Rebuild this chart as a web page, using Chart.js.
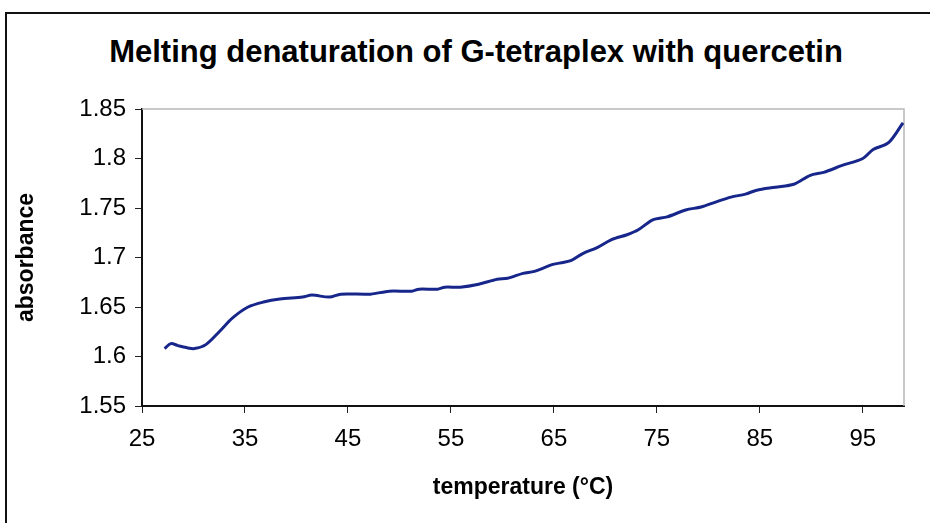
<!DOCTYPE html>
<html lang="en">
<head>
    <meta charset="UTF-8">
    <title>Melting denaturation of G-tetraplex with quercetin</title>
    <script src="https://cdn.jsdelivr.net/npm/chart.js"></script>
    <style>
        html, body { margin: 0; padding: 0; background: #fff; overflow: hidden; }
        .page { position: relative; width: 930px; height: 523px; }
        .frame {
            position: absolute; left: 5px; top: 12px; width: 960px; height: 560px;
            border-left: 2px solid #111; border-top: 2px solid #111;
        }
        .chart-title {
            position: absolute; left: 0; top: 34px; width: 952px;
            text-align: center; font: bold 31px "Liberation Sans", Arial, sans-serif;
            line-height: 36px; color: #000;
        }
        canvas { position: absolute; left: 0; top: 0; }
    </style>
</head>
<body>
    <div class="page">
        <div class="frame"></div>
        <div class="chart-title">Melting denaturation of G-tetraplex with quercetin</div>
        <canvas id="meltChart" width="930" height="523"></canvas>
    </div>

    <script>
        // melting curve readings: temperature (°C) vs absorbance
        const temperature = [27.2, 27.8, 28.5, 29.3, 30.1, 31.2, 32.5, 33.8, 35.3, 36.8,
            38.4, 40.6, 41.5, 43.2, 44.3, 47.2, 49.0, 51.2, 51.9, 53.7,
            54.4, 55.9, 57.7, 59.5, 60.5, 62.0, 63.1, 64.9, 65.9, 66.7,
            67.8, 69.2, 70.6, 72.1, 73.2, 74.6, 76.0, 77.8, 79.3, 80.7,
            82.2, 83.6, 84.7, 86.5, 88.3, 89.9, 91.2, 93.0, 95.0, 96.0,
            97.5, 98.9];
        const absorbance = [1.608, 1.613, 1.611, 1.609, 1.608, 1.612, 1.625, 1.639, 1.650, 1.655,
            1.658, 1.660, 1.662, 1.660, 1.663, 1.663, 1.666, 1.666, 1.668, 1.668,
            1.670, 1.670, 1.673, 1.678, 1.679, 1.684, 1.686, 1.693, 1.695, 1.697,
            1.704, 1.710, 1.718, 1.723, 1.728, 1.738, 1.741, 1.748, 1.751, 1.756,
            1.761, 1.764, 1.768, 1.771, 1.774, 1.783, 1.786, 1.793, 1.800, 1.809,
            1.816, 1.836];

        const xTicks = [25, 35, 45, 55, 65, 75, 85, 95];
        const yTicks = [1.55, 1.6, 1.65, 1.7, 1.75, 1.8, 1.85];

        const FONT = '"Liberation Sans", Arial, sans-serif';

        // light grey frame on the top and right of the plot area
        const plotFrame = {
            id: 'plotFrame',
            beforeDatasetsDraw(chart) {
                const { ctx, chartArea: a } = chart;
                ctx.save();
                ctx.strokeStyle = '#b8b8b8';
                ctx.lineWidth = 1.5;
                ctx.beginPath();
                ctx.moveTo(a.left, a.top);
                ctx.lineTo(a.right, a.top);
                ctx.lineTo(a.right, a.bottom);
                ctx.stroke();
                ctx.restore();
            }
        };

        const axisGrid = {
            drawOnChartArea: false,
            drawTicks: true,
            tickLength: 7,
            tickColor: '#222',
            lineWidth: 1
        };

        new Chart(document.getElementById('meltChart'), {
            type: 'scatter',
            data: {
                datasets: [{
                    label: 'absorbance',
                    data: temperature.map((t, i) => ({ x: t, y: absorbance[i] })),
                    showLine: true,
                    borderColor: '#17268a',
                    borderWidth: 3,
                    pointRadius: 0,
                    tension: 0.3
                }]
            },
            options: {
                responsive: false,
                animation: false,
                layout: { padding: { top: 109, right: 26, bottom: 0, left: 0 } },
                plugins: {
                    legend: { display: false },
                    tooltip: { enabled: false }
                },
                scales: {
                    x: {
                        type: 'linear',
                        min: 25,
                        max: 99,
                        afterBuildTicks: s => { s.ticks = xTicks.map(v => ({ value: v })); },
                        afterFit: s => { s.height = 117; },
                        grid: axisGrid,
                        border: { display: true, color: '#111', width: 2 },
                        ticks: {
                            font: { family: FONT, size: 24 },
                            color: '#000',
                            padding: 12,
                            maxRotation: 0,
                            callback: v => String(v)
                        },
                        title: {
                            display: true,
                            text: 'temperature (°C)',
                            font: { family: FONT, size: 23, weight: 'bold' },
                            color: '#000',
                            padding: { top: 0, bottom: 22 }
                        }
                    },
                    y: {
                        min: 1.55,
                        max: 1.85,
                        afterBuildTicks: s => { s.ticks = yTicks.map(v => ({ value: v })); },
                        afterFit: s => { s.width = 142; },
                        grid: axisGrid,
                        border: { display: true, color: '#111', width: 2 },
                        ticks: {
                            font: { family: FONT, size: 24 },
                            color: '#000',
                            padding: 9,
                            callback: v => String(+v.toFixed(2))
                        },
                        title: {
                            display: true,
                            text: 'absorbance',
                            font: { family: FONT, size: 23, weight: 'bold' },
                            color: '#000',
                            padding: { top: 13, bottom: 0 }
                        }
                    }
                }
            },
            plugins: [plotFrame]
        });
    </script>
</body>
</html>
